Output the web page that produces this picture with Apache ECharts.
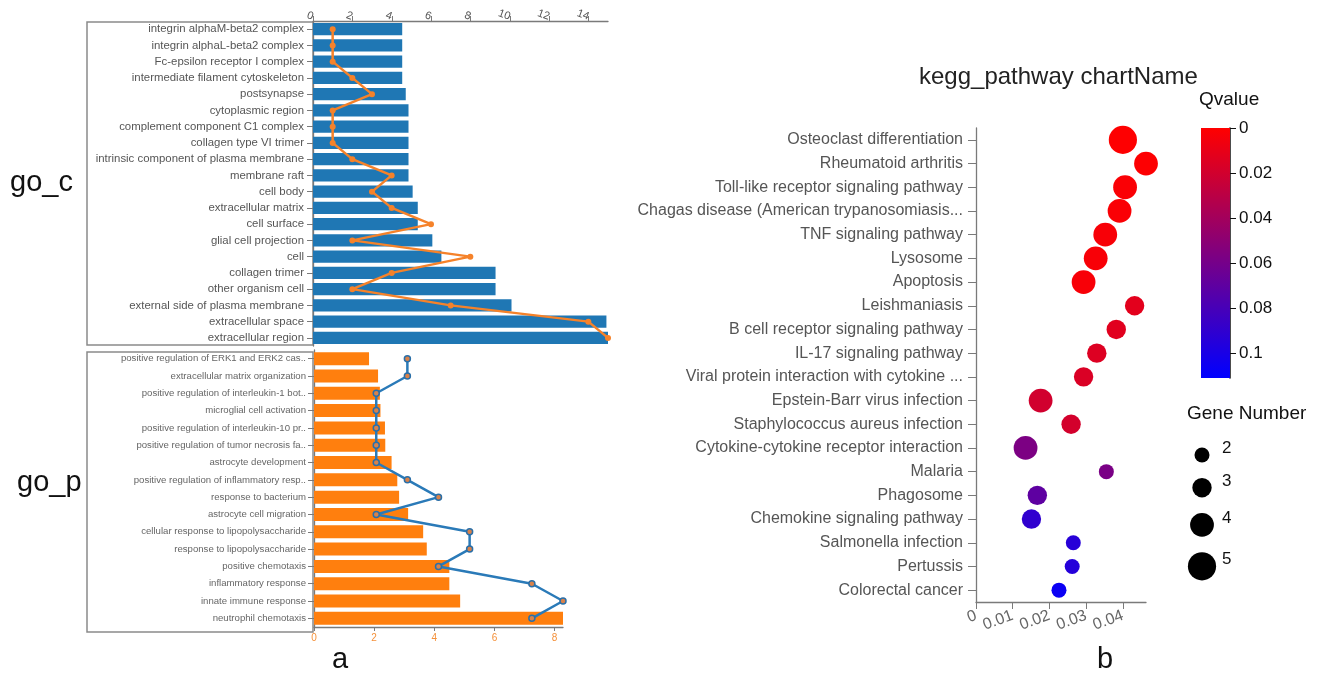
<!DOCTYPE html>
<html><head><meta charset="utf-8">
<script src="https://cdn.jsdelivr.net/npm/echarts@6/dist/echarts.min.js"></script>
<style>html,body{margin:0;padding:0;background:#fff}#c{width:1320px;height:678px}</style>
</head><body><div id="c"></div>
<script>
// ---------- go_c (cellular component) ----------
const goCCategories = [
  'integrin alphaM-beta2 complex','integrin alphaL-beta2 complex','Fc-epsilon receptor I complex',
  'intermediate filament cytoskeleton','postsynapse','cytoplasmic region','complement component C1 complex',
  'collagen type VI trimer','intrinsic component of plasma membrane','membrane raft','cell body',
  'extracellular matrix','cell surface','glial cell projection','cell','collagen trimer',
  'other organism cell','external side of plasma membrane','extracellular space','extracellular region'
];
const goCBarValues = [4.53,4.53,4.53,4.53,4.71,4.85,4.85,4.85,4.85,4.85,5.06,5.32,5.32,6.06,6.52,9.27,9.27,10.08,14.9,14.98];
const goCLineValues = [1,1,1,2,3,1,1,1,2,4,3,4,6,2,8,4,2,7,14,15];

// ---------- go_p (biological process) ----------
const goPCategories = [
  'positive regulation of ERK1 and ERK2 cas..','extracellular matrix organization',
  'positive regulation of interleukin-1 bot..','microglial cell activation',
  'positive regulation of interleukin-10 pr..','positive regulation of tumor necrosis fa..',
  'astrocyte development','positive regulation of inflammatory resp..','response to bacterium',
  'astrocyte cell migration','cellular response to lipopolysaccharide','response to lipopolysaccharide',
  'positive chemotaxis','inflammatory response','innate immune response','neutrophil chemotaxis'
];
const goPBarValues = [1.83,2.13,2.19,2.21,2.36,2.37,2.58,2.77,2.83,3.13,3.63,3.75,4.5,4.5,4.86,8.28];
const goPLineValues = [3,3,2,2,2,2,2,3,4,2,5,5,4,7,8,7];

// ---------- kegg pathway bubble chart ----------
const keggCategories = [
  'Osteoclast differentiation','Rheumatoid arthritis','Toll-like receptor signaling pathway',
  'Chagas disease (American trypanosomiasis...','TNF signaling pathway','Lysosome','Apoptosis',
  'Leishmaniasis','B cell receptor signaling pathway','IL-17 signaling pathway',
  'Viral protein interaction with cytokine ...','Epstein-Barr virus infection',
  'Staphylococcus aureus infection','Cytokine-cytokine receptor interaction','Malaria','Phagosome',
  'Chemokine signaling pathway','Salmonella infection','Pertussis','Colorectal cancer'
];
const keggRichFactor = [0.0400,0.0463,0.0406,0.0391,0.0352,0.0326,0.0293,0.0432,0.0382,0.0329,0.0293,0.0176,0.0259,0.0135,0.0355,0.0167,0.0151,0.0265,0.0262,0.0226];
const keggGeneNumber = [5,4,4,4,4,4,4,3,3,3,3,4,3,4,2,3,3,2,2,2];
const keggQvalue = [0.0005,0.001,0.002,0.002,0.003,0.003,0.003,0.012,0.013,0.015,0.016,0.02,0.019,0.057,0.058,0.07,0.09,0.094,0.095,0.106];
const qvalueScaleMax = 0.111;
const geneLegendValues = [2,3,4,5];

const FONT = 'Liberation Sans';
const geneSize = n => 6.2 + 4.4 * n;

// gene legend vertical placement derived from symbol sizes
const legendGap = 15.5;
const legendY = [];
geneLegendValues.forEach((g, i) => {
  if (i === 0) legendY.push(geneSize(g) / 2);
  else legendY.push(legendY[i - 1] + geneSize(geneLegendValues[i - 1]) / 2 + legendGap + geneSize(g) / 2);
});

const greyAxis = { lineStyle: { color: '#7a7a7a', width: 1.3 } };

const chart = echarts.init(document.getElementById('c'), null, { renderer: 'canvas' });
chart.setOption({
  animation: false,
  backgroundColor: '#fff',
  textStyle: { fontFamily: FONT },
  title: {
    text: 'kegg_pathway chartName', left: 914, top: 60,
    textStyle: { fontFamily: FONT, fontSize: 24, fontWeight: 'normal', color: '#222' }
  },
  grid: [
    { left: 313, top: 21, width: 295, height: 325, containLabel: false },
    { left: 314, top: 350, width: 249, height: 277, containLabel: false },
    { left: 976, top: 128, width: 170, height: 474, containLabel: false },
    { left: 1201, top: 128, width: 29, height: 250, containLabel: false },
    { left: 1182, top: 447.5, width: 40, height: 140, containLabel: false }
  ],
  xAxis: [
    { gridIndex: 0, type: 'value', position: 'top', min: 0, max: Math.max(...goCBarValues), interval: 2,
      axisLine: { show: true, ...greyAxis }, axisTick: { show: true, length: 5, lineStyle: { color: '#7a7a7a' } },
      splitLine: { show: false },
      axisLabel: { showMaxLabel: false, fontSize: 11, color: '#555', rotate: 20, margin: 4, fontFamily: FONT } },
    { gridIndex: 0, type: 'value', show: false, min: 0, max: Math.max(...goCLineValues) },
    { gridIndex: 1, type: 'value', position: 'bottom', min: 0, max: Math.max(...goPBarValues), interval: 2,
      axisLine: { show: true, ...greyAxis }, axisTick: { show: true, length: 4, lineStyle: { color: '#7a7a7a' } },
      splitLine: { show: false },
      axisLabel: { showMaxLabel: false, fontSize: 10, color: '#f5913a', margin: 6, fontFamily: FONT } },
    { gridIndex: 1, type: 'value', show: false, min: 0, max: Math.max(...goPLineValues) },
    { gridIndex: 2, type: 'value', min: 0, max: Math.max(...keggRichFactor), interval: 0.01,
      axisLine: { show: true, ...greyAxis }, axisTick: { show: true, length: 7, lineStyle: { color: '#7a7a7a' } },
      splitLine: { show: false },
      axisLabel: { showMaxLabel: false, fontSize: 16, color: '#666', rotate: 20, margin: 13, fontFamily: FONT } },
    { gridIndex: 3, type: 'category', show: false, data: ['Qvalue'] },
    { gridIndex: 4, type: 'value', show: false, min: -1, max: 1 }
  ],
  yAxis: [
    { gridIndex: 0, type: 'category', inverse: true, data: goCCategories,
      axisLine: { show: true, ...greyAxis }, axisTick: { show: true, alignWithLabel: true, length: 6, lineStyle: { color: '#7a7a7a' } },
      axisLabel: { fontSize: 11.4, color: '#555', margin: 9, fontFamily: FONT } },
    { gridIndex: 1, type: 'category', inverse: true, data: goPCategories,
      axisLine: { show: true, ...greyAxis }, axisTick: { show: true, alignWithLabel: true, length: 6, lineStyle: { color: '#7a7a7a' } },
      axisLabel: { fontSize: 9.6, color: '#666', margin: 8, fontFamily: FONT } },
    { gridIndex: 2, type: 'category', inverse: true, data: keggCategories,
      axisLine: { show: true, ...greyAxis }, axisTick: { show: true, alignWithLabel: true, length: 8, lineStyle: { color: '#7a7a7a' } },
      axisLabel: { fontSize: 16, color: '#555', margin: 13, fontFamily: FONT } },
    { gridIndex: 3, type: 'value', position: 'right', inverse: true, min: 0, max: qvalueScaleMax, interval: 0.02,
      axisLine: { show: true, lineStyle: { color: '#111', width: 1.5 } },
      axisTick: { show: true, length: 6, lineStyle: { color: '#111' } },
      splitLine: { show: false },
      axisLabel: { showMaxLabel: false, fontSize: 17, color: '#111', margin: 9, fontFamily: FONT } },
    { gridIndex: 4, type: 'value', show: false, inverse: true, min: 0, max: 140 }
  ],
  visualMap: [{
    type: 'continuous', show: false, seriesIndex: 4, dimension: 2,
    min: 0, max: qvalueScaleMax, inRange: { color: ['#ff0000', '#0000ff'] }
  }],
  graphic: [
    { type: 'rect', shape: { x: 87, y: 22, width: 226, height: 323 }, style: { fill: 'none', stroke: '#8a8a8a', lineWidth: 1.5 }, silent: true },
    { type: 'rect', shape: { x: 87, y: 352, width: 226, height: 280 }, style: { fill: 'none', stroke: '#8a8a8a', lineWidth: 1.5 }, silent: true },
    { type: 'text', left: 10, top: 168, style: { text: 'go_c', font: '29px "Liberation Sans"', fill: '#111' } },
    { type: 'text', left: 17, top: 468, style: { text: 'go_p', font: '29px "Liberation Sans"', fill: '#111' } },
    { type: 'text', left: 332, top: 645, style: { text: 'a', font: '29px "Liberation Sans"', fill: '#111' } },
    { type: 'text', left: 1097, top: 645, style: { text: 'b', font: '29px "Liberation Sans"', fill: '#111' } },
    { type: 'text', left: 1199, top: 90, style: { text: 'Qvalue', font: '19px "Liberation Sans"', fill: '#111' } },
    { type: 'text', left: 1187, top: 404, style: { text: 'Gene Number', font: '19px "Liberation Sans"', fill: '#111' } }
  ],
  series: [
    { type: 'bar', xAxisIndex: 0, yAxisIndex: 0, data: goCBarValues, barCategoryGap: '26%',
      itemStyle: { color: '#1f77b4' }, z: 2 },
    { type: 'line', xAxisIndex: 1, yAxisIndex: 0, data: goCLineValues, symbol: 'circle', symbolSize: 6,
      lineStyle: { color: '#f5822a', width: 2.5 }, itemStyle: { color: '#f5822a' }, z: 3 },
    { type: 'bar', xAxisIndex: 2, yAxisIndex: 1, data: goPBarValues, barCategoryGap: '25%',
      itemStyle: { color: '#ff7f0e' }, z: 2 },
    { type: 'line', xAxisIndex: 3, yAxisIndex: 1, data: goPLineValues, symbol: 'circle', symbolSize: 6,
      lineStyle: { color: '#2a7ab8', width: 2.5 },
      itemStyle: { color: '#d9824a', borderColor: '#2a6fa8', borderWidth: 1.5 }, z: 3 },
    { type: 'scatter', xAxisIndex: 4, yAxisIndex: 2,
      data: keggCategories.map((c, i) => [keggRichFactor[i], c, keggQvalue[i], keggGeneNumber[i]]),
      symbolSize: v => geneSize(v[3]), itemStyle: { opacity: 1 } },
    { type: 'bar', xAxisIndex: 5, yAxisIndex: 3, data: [qvalueScaleMax], barWidth: '100%',
      itemStyle: { color: new echarts.graphic.LinearGradient(0, 0, 0, 1, [
        { offset: 0, color: '#ff0000' }, { offset: 1, color: '#0000ff' }]) } },
    { type: 'scatter', xAxisIndex: 6, yAxisIndex: 4,
      data: geneLegendValues.map((g, i) => [0, legendY[i], g]),
      symbolSize: v => geneSize(v[2]), itemStyle: { color: '#000', opacity: 1 },
      label: { show: true, position: 'inside', align: 'left', offset: [20, -6.5],
        formatter: p => String(p.value[2]), fontSize: 17, color: '#111', fontFamily: FONT } }
  ]
});
</script></body></html>
